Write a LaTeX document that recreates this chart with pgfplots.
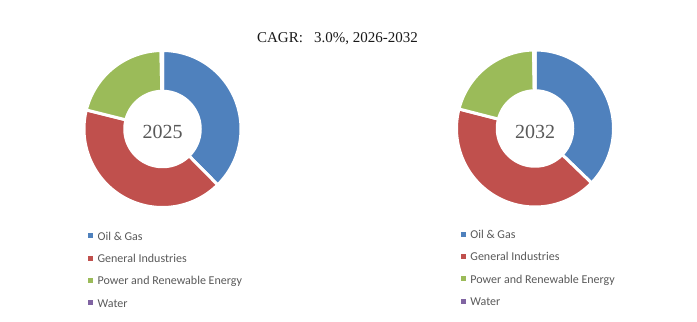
\documentclass[border=0pt]{standalone}
\usepackage{pgfplots}
\pgfplotsset{compat=1.18}
\usepgfplotslibrary{polar}
\usepackage{fontspec}
\setmainfont{Liberation Serif}
\newfontfamily\carlito{Carlito}
\definecolor{cOil}{HTML}{4F81BD}
\definecolor{cGen}{HTML}{C0504D}
\definecolor{cPow}{HTML}{9BBB59}
\definecolor{cWat}{HTML}{8064A2}
\definecolor{txt}{HTML}{595959}
\pgfplotsset{
  donut/.style={hide axis, scale only axis, width=157bp, height=157bp,
    ymin=0, ymax=1, xmin=0, xmax=360, clip=false, anchor=center,
    legend cell align=left,
    legend image code/.code={\fill[##1, draw=none] (0bp,-1.2bp) rectangle (5bp,3.8bp);},
    legend style={draw=none, fill=none, inner sep=0pt, anchor=north west,
      font=\carlito\fontsize{12bp}{14bp}\selectfont, text=txt,
      row sep=11.4bp, column sep=4.5bp,
      nodes={inner sep=0pt, text height=8.5bp, text depth=2.5bp}},
  },
  slice/.style={fill=#1, draw=white, line width=3bp, samples=80, forget plot},
}
\begin{document}
\begin{tikzpicture}
\useasboundingbox (0,0) rectangle (697bp,322bp);
\node[anchor=base, text=black!90, font=\fontsize{15bp}{18bp}\selectfont] at (337.5bp,279bp) {CAGR:\ \ \ 3.0\%,\ 2026-2032};
% ---- 2025 : shares in % (Oil & Gas, General Industries, Power & Renewable, Water)
% 37.6, 41.3, 20.8, 0.3
\begin{polaraxis}[donut, at={(162.5bp,193bp)}, legend style={at={(0.025,-0.152)}}]
\addplot[slice=cOil, domain={90-3.6*37.6}:{90}] {1} -- (axis cs:0,0) -- cycle;
\addplot[slice=cGen, domain={90-3.6*(37.6+41.3)}:{90-3.6*37.6}] {1} -- (axis cs:0,0) -- cycle;
\addplot[slice=cPow, domain={90-3.6*(37.6+41.3+20.8)}:{90-3.6*(37.6+41.3)}] {1} -- (axis cs:0,0) -- cycle;
\addplot[slice=cWat, domain={90-3.6*100}:{90-3.6*(37.6+41.3+20.8)}] {1} -- (axis cs:0,0) -- cycle;
\addplot[fill=white, draw=none, domain=0:360, samples=121, forget plot] {0.5} -- cycle;
\node[text=txt, font=\fontsize{20bp}{24bp}\selectfont, yshift=-3bp] at (axis cs:0,0) {2025};
\addlegendimage{fill=cOil}\addlegendentry{Oil \& Gas}
\addlegendimage{fill=cGen}\addlegendentry{General Industries}
\addlegendimage{fill=cPow}\addlegendentry{Power and Renewable Energy}
\addlegendimage{fill=cWat}\addlegendentry{Water}
\end{polaraxis}
% ---- 2032 : 37.2, 41.8, 20.7, 0.3
\begin{polaraxis}[donut, at={(535bp,193.5bp)}, legend style={at={(0.027,-0.144)}}]
\addplot[slice=cOil, domain={90-3.6*37.2}:{90}] {1} -- (axis cs:0,0) -- cycle;
\addplot[slice=cGen, domain={90-3.6*(37.2+41.8)}:{90-3.6*37.2}] {1} -- (axis cs:0,0) -- cycle;
\addplot[slice=cPow, domain={90-3.6*(37.2+41.8+20.7)}:{90-3.6*(37.2+41.8)}] {1} -- (axis cs:0,0) -- cycle;
\addplot[slice=cWat, domain={90-3.6*100}:{90-3.6*(37.2+41.8+20.7)}] {1} -- (axis cs:0,0) -- cycle;
\addplot[fill=white, draw=none, domain=0:360, samples=121, forget plot] {0.5} -- cycle;
\node[text=txt, font=\fontsize{20bp}{24bp}\selectfont, yshift=-3bp] at (axis cs:0,0) {2032};
\addlegendimage{fill=cOil}\addlegendentry{Oil \& Gas}
\addlegendimage{fill=cGen}\addlegendentry{General Industries}
\addlegendimage{fill=cPow}\addlegendentry{Power and Renewable Energy}
\addlegendimage{fill=cWat}\addlegendentry{Water}
\end{polaraxis}
\end{tikzpicture}
\end{document}
